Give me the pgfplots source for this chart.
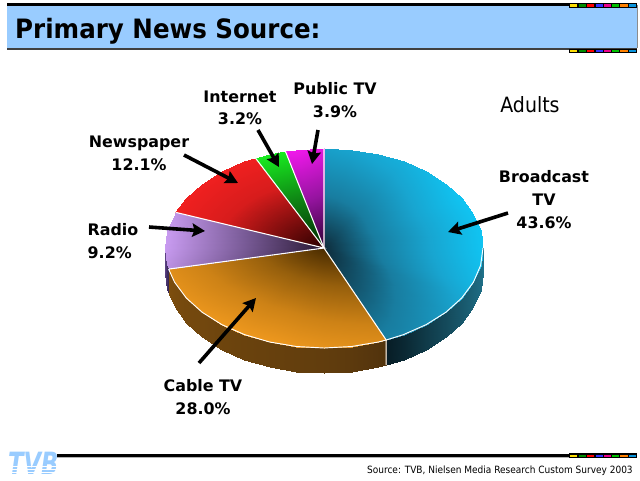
\documentclass[border=0pt]{standalone}
\usepackage{pgfplots}
\pgfplotsset{compat=1.18}
\usepackage{fontspec}
\usetikzlibrary{arrows.meta}
\setmainfont{DejaVu Sans}
\newfontfamily\cond{DejaVu Sans Condensed}
\tikzset{
  lab/.style={font=\fontsize{11.9}{14}\selectfont\bfseries,align=center,inner sep=0pt},
  pointer/.style={black,line width=2.7pt,-{Stealth[length=9.5pt,width=10pt,inset=1.5pt]}},
}
\definecolor{hdr}{RGB}{153,204,255}
\newcommand\strip[2]{%
  \fill[yellow!80!orange] (axis cs:570,#1) rectangle (axis cs:577,#2);
  \fill[green!55!black] (axis cs:579,#1) rectangle (axis cs:586,#2);
  \fill[red] (axis cs:587,#1) rectangle (axis cs:594,#2);
  \fill[blue!80] (axis cs:596,#1) rectangle (axis cs:603,#2);
  \fill[magenta] (axis cs:604,#1) rectangle (axis cs:611,#2);
  \fill[green!75!black] (axis cs:612,#1) rectangle (axis cs:619,#2);
  \fill[orange] (axis cs:620,#1) rectangle (axis cs:628,#2);
  \fill[cyan!80!blue] (axis cs:629,#1) rectangle (axis cs:636,#2);
}
\begin{document}
\begin{tikzpicture}
\begin{axis}[
  scale only axis,width=480pt,height=360pt,
  xmin=0,xmax=640,ymin=0,ymax=480,y dir=reverse,
  hide axis,clip=false,
  point meta min=0,point meta max=1,
]
\fill[white] (axis cs:0,0) rectangle (axis cs:640,480);
% header band
\fill[hdr] (axis cs:7,5) rectangle (axis cs:637,48);
\fill[black] (axis cs:7,3) rectangle (axis cs:637,5.5);
\fill[black!75] (axis cs:7,47.5) rectangle (axis cs:637,50);
\fill[black!45] (axis cs:636.5,5) rectangle (axis cs:638,48);
\fill[black] (axis cs:569,3) rectangle (axis cs:637,7.5);
\fill[black] (axis cs:569,49) rectangle (axis cs:637,53);
\strip{4.2}{6.5}
\strip{50}{52}
\node[anchor=base west,inner sep=0pt,xscale=.92,font=\fontsize{20}{24}\selectfont\bfseries] at (axis cs:15,38) {Primary News Source:};

% side wall, Broadcast TV
\addplot[patch,patch type=rectangle,shader=interp,point meta=explicit,
  colormap={sa}{rgb255=(6,24,32) rgb255=(32,115,140)}] coordinates {
(483,248)[1] (483,273)[1] (480.6,290.4)[.92] (480.6,265.4)[.92]
(480.6,265.4)[.92] (480.6,290.4)[.92] (473.4,307.2)[.82] (473.4,282.2)[.82]
(473.4,282.2)[.82] (473.4,307.2)[.82] (461.7,323)[.7] (461.7,298)[.7]
(461.7,298)[.7] (461.7,323)[.7] (445.8,337.3)[.55] (445.8,312.3)[.55]
(445.8,312.3)[.55] (445.8,337.3)[.55] (426.2,349.6)[.38] (426.2,324.6)[.38]
(426.2,324.6)[.38] (426.2,349.6)[.38] (403.5,359.6)[.18] (403.5,334.6)[.18]
(403.5,334.6)[.18] (403.5,359.6)[.18] (386.2,365)[.05] (386.2,340)[.05]
};
% side wall, Cable TV
\addplot[patch,patch type=rectangle,shader=interp,point meta=explicit,
  colormap={sb}{rgb255=(70,44,12) rgb255=(125,78,14)}] coordinates {
(386.2,340)[.2] (386.2,365)[.2] (378.4,367)[.25] (378.4,342)[.25]
(378.4,342)[.25] (378.4,367)[.25] (351.6,371.5)[.4] (351.6,346.5)[.4]
(351.6,346.5)[.4] (351.6,371.5)[.4] (324,373)[.5] (324,348)[.5]
(324,348)[.5] (324,373)[.5] (296.4,371.5)[.55] (296.4,346.5)[.55]
(296.4,346.5)[.55] (296.4,371.5)[.55] (269.6,367)[.6] (269.6,342)[.6]
(269.6,342)[.6] (269.6,367)[.6] (244.5,359.6)[.65] (244.5,334.6)[.65]
(244.5,334.6)[.65] (244.5,359.6)[.65] (221.8,349.6)[.72] (221.8,324.6)[.72]
(221.8,324.6)[.72] (221.8,349.6)[.72] (202.2,337.3)[.8] (202.2,312.3)[.8]
(202.2,312.3)[.8] (202.2,337.3)[.8] (186.3,323)[.85] (186.3,298)[.85]
(186.3,298)[.85] (186.3,323)[.85] (174.6,307.2)[.92] (174.6,282.2)[.92]
(174.6,282.2)[.92] (174.6,307.2)[.92] (168.6,294.1)[1] (168.6,269.1)[1]
};
% side wall, Radio
\addplot[patch,patch type=rectangle,shader=interp,point meta=explicit,
  colormap={sc}{rgb255=(50,35,80) rgb255=(90,65,130)}] coordinates {
(168.6,269.1)[0] (168.6,294.1)[0] (167.4,290.4)[.3] (167.4,265.4)[.3]
(167.4,265.4)[.3] (167.4,290.4)[.3] (165,273)[1] (165,248)[1]
};

% top, Broadcast TV 43.6%
\addplot[patch,shader=interp,point meta=explicit,
  colormap={ta}{rgb255=(14,45,60) rgb255=(24,125,160) rgb255=(24,165,208) rgb255=(16,196,242)}] coordinates {
(324,248)[0] (324,148)[.62] (351.6,149.5)[.66]
(324,248)[0] (351.6,149.5)[.66] (378.4,154)[.72]
(324,248)[0] (378.4,154)[.72] (403.5,161.4)[.78]
(324,248)[0] (403.5,161.4)[.78] (426.2,171.4)[.86]
(324,248)[0] (426.2,171.4)[.86] (445.8,183.7)[.94]
(324,248)[0] (445.8,183.7)[.94] (461.7,198)[1]
(324,248)[0] (461.7,198)[1] (473.4,213.8)[1]
(324,248)[0] (473.4,213.8)[1] (480.6,230.6)[1]
(324,248)[0] (480.6,230.6)[1] (483,248)[1]
(324,248)[0] (483,248)[1] (480.6,265.4)[.95]
(324,248)[0] (480.6,265.4)[.95] (473.4,282.2)[.85]
(324,248)[0] (473.4,282.2)[.85] (461.7,298)[.7]
(324,248)[0] (461.7,298)[.7] (445.8,312.3)[.58]
(324,248)[0] (445.8,312.3)[.58] (426.2,324.6)[.48]
(324,248)[0] (426.2,324.6)[.48] (403.5,334.6)[.4]
(324,248)[0] (403.5,334.6)[.4] (386.2,340)[.36]
};
% top, Cable TV 28.0%
\addplot[patch,shader=interp,point meta=explicit,
  colormap={tb}{rgb255=(74,44,0) rgb255=(150,95,12) rgb255=(205,130,22) rgb255=(238,152,30)}] coordinates {
(324,248)[0] (386.2,340)[.8] (378.4,342)[.82]
(324,248)[0] (378.4,342)[.82] (351.6,346.5)[.88]
(324,248)[0] (351.6,346.5)[.88] (324,348)[.92]
(324,248)[0] (324,348)[.92] (296.4,346.5)[.97]
(324,248)[0] (296.4,346.5)[.97] (269.6,342)[1]
(324,248)[0] (269.6,342)[1] (244.5,334.6)[1]
(324,248)[0] (244.5,334.6)[1] (221.8,324.6)[1]
(324,248)[0] (221.8,324.6)[1] (202.2,312.3)[.96]
(324,248)[0] (202.2,312.3)[.96] (186.3,298)[.92]
(324,248)[0] (186.3,298)[.92] (174.6,282.2)[.88]
(324,248)[0] (174.6,282.2)[.88] (168.6,269.1)[.84]
};
% top, Radio 9.2%
\addplot[patch,shader=interp,point meta=explicit,
  colormap={tc}{rgb255=(40,24,50) rgb255=(120,90,150) rgb255=(200,155,240)}] coordinates {
(324,248)[0] (168.6,269.1)[.9] (167.4,265.4)[.92]
(324,248)[0] (167.4,265.4)[.92] (165,248)[1]
(324,248)[0] (165,248)[1] (167.4,230.6)[1]
(324,248)[0] (167.4,230.6)[1] (174.6,213.8)[.95]
(324,248)[0] (174.6,213.8)[.95] (175.5,212.3)[.95]
};
% top, Newspaper 12.1%
\addplot[patch,shader=interp,point meta=explicit,
  colormap={td}{rgb255=(42,0,0) rgb255=(130,14,14) rgb255=(215,28,28) rgb255=(240,32,32)}] coordinates {
(324,248)[0] (175.5,212.3)[1] (186.3,198)[1]
(324,248)[0] (186.3,198)[1] (202.2,183.7)[1]
(324,248)[0] (202.2,183.7)[1] (221.8,171.4)[1]
(324,248)[0] (221.8,171.4)[1] (244.5,161.4)[1]
(324,248)[0] (244.5,161.4)[1] (255.3,157.8)[1]
};
% top, Internet 3.2%
\addplot[patch,shader=interp,point meta=explicit,
  colormap={te}{rgb255=(0,40,0) rgb255=(14,130,20) rgb255=(24,235,32)}] coordinates {
(324,248)[0] (255.3,157.8)[1] (269.6,154)[1]
(324,248)[0] (269.6,154)[1] (285.3,151)[1]
};
% top, Public TV 3.9%
\addplot[patch,shader=interp,point meta=explicit,
  colormap={tf}{rgb255=(45,0,50) rgb255=(150,20,160) rgb255=(240,24,235)}] coordinates {
(324,248)[0] (285.3,151)[1] (296.4,149.5)[1]
(324,248)[0] (296.4,149.5)[1] (324,148)[.92]
};

% white slice edges
\addplot[white,line width=.8pt] coordinates {(324,148) (324,248) (386.2,340) (386.2,365)};
\addplot[white,line width=.8pt] coordinates {(168.6,269.1) (324,248) (175.5,212.3)};
\addplot[white,line width=.8pt] coordinates {(324,248) (255.3,157.8)};
\addplot[white,line width=.8pt] coordinates {(324,248) (285.3,151)};
\addplot[white,line width=.7pt] coordinates {
(483,248) (480.6,265.4) (473.4,282.2) (461.7,298) (445.8,312.3) (426.2,324.6) (403.5,334.6) (386.2,340)
(378.4,342) (351.6,346.5) (324,348) (296.4,346.5) (269.6,342) (244.5,334.6) (221.8,324.6) (202.2,312.3)
(186.3,298) (174.6,282.2) (168.6,269.1)};

% pointers
\draw[pointer] (axis cs:508,213) -- (axis cs:448,232);
\draw[pointer] (axis cs:199,363) -- (axis cs:256,298);
\draw[pointer] (axis cs:149,227) -- (axis cs:205,231);
\draw[pointer] (axis cs:184,155) -- (axis cs:238,183);
\draw[pointer] (axis cs:258,130) -- (axis cs:279,167);
\draw[pointer] (axis cs:318,130) -- (axis cs:312,164);

% labels
\node[lab] at (axis cs:240,107.5) {Internet\\[2.5pt]3.2\%};
\node[lab] at (axis cs:335,100) {Public TV\\[3pt]3.9\%};
\node[lab] at (axis cs:139,153) {Newspaper\\[3pt]12.1\%};
\node[lab,align=left] at (axis cs:113,241) {Radio\\[3pt]9.2\%};
\node[lab] at (axis cs:544,199.5) {Broadcast\\[3pt]TV\\[3pt]43.6\%};
\node[lab] at (axis cs:203,397) {Cable TV\\[3pt]28.0\%};
\node[font=\fontsize{15.8}{18}\selectfont\cond,inner sep=0pt] at (axis cs:530,105) {Adults};

% footer
\node[anchor=west,inner sep=0pt,text=hdr,xscale=.74,font=\fontsize{23}{26}\selectfont\bfseries\itshape] at (axis cs:8,463.5) {TVB};
\fill[white] (axis cs:4,465.5) rectangle (axis cs:60,466.5);
\fill[white] (axis cs:4,468.5) rectangle (axis cs:60,469.5);
\fill[white] (axis cs:4,471.5) rectangle (axis cs:60,472.5);
\fill[black] (axis cs:57,453.5) rectangle (axis cs:637,456.5);
\fill[black!30] (axis cs:57,456.5) rectangle (axis cs:569,457.5);
\fill[black] (axis cs:569,453) rectangle (axis cs:637,457.5);
\strip{454.5}{456.5}
\node[anchor=base east,inner sep=0pt,font=\fontsize{7.5}{10}\selectfont\cond] at (axis cs:633,473) {Source: TVB, Nielsen Media Research Custom Survey 2003};
\end{axis}
\end{tikzpicture}
\end{document}
